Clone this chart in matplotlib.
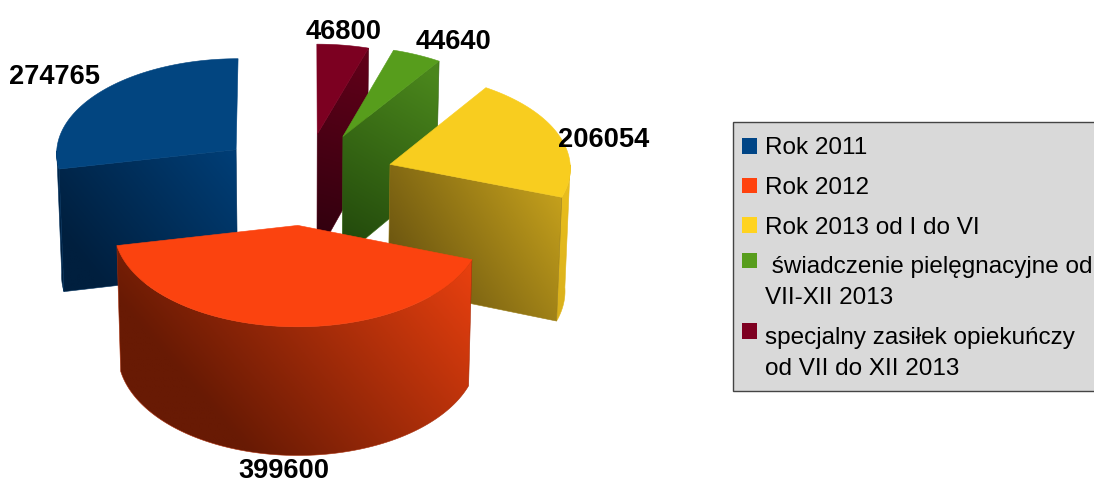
import numpy as np
import matplotlib
matplotlib.use('Agg')
import matplotlib.pyplot as plt
from matplotlib.colors import LinearSegmentedColormap
from matplotlib.patches import Patch, Polygon, Rectangle

plt.rcParams['font.family'] = ['Liberation Sans', 'DejaVu Sans']

# data
categories = ['Rok 2011', 'Rok 2012', 'Rok 2013 od I do VI',
              ' świadczenie pielęgnacyjne od\nVII-XII 2013',
              'specjalny zasiłek opiekuńczy\nod VII do XII 2013']
values = [274765, 399600, 206054, 44640, 46800]
colors = ['#004586', '#ff420e', '#ffd320', '#579d1c', '#7e0021']
top_colors = ['#024580', '#fb430f', '#f8cd1f', '#579d1c', '#7c0021']

# projection of the pie (pixels)
CX, CY = 304.3, 179.0
RX, RY = 181.0, 95.5
PERSP = 0.03
HEIGHT = 123.0
SHRINK = 0.98
explode = [0.49, 0.48, 0.5, 0.5, 0.48]

# wall shading: dark colour, light colour, gradient start and end
wall_shade = [('#001e3c', '#003f7a', (80, 280), (240, 150)),
              ('#681a04', '#e8400f', (250, 455), (470, 265)),
              ('#d9b01c', '#ecc01d', (560, 320), (570, 170)),
              ('#234a0c', '#234a0c', (0, 0), (1, 1)),
              ('#34000f', '#34000f', (0, 0), (1, 1))]
# cut face shading
cut_shade = [('#001f3e', '#003f78', (90, 270), (240, 150)),
             None,
             ('#6b5510', '#c9a41d', (400, 270), (555, 170)),
             ('#234a0c', '#4a861c', (345, 240), (440, 80)),
             ('#33000f', '#600019', (318, 230), (368, 60))]

label_pos = [(54, 77), (284, 470.5), (604, 140), (454, 42), (344, 32)]


def project(u, v):
    s = 1.0 / (1.0 + PERSP * v)
    return CX + RX * u * s, CY - RY * v * s, s


def lower(x, y, s):
    return CX + (x - CX) * SHRINK, y + HEIGHT * s


def shaded(ax, pts, shade, z):
    # gradient image clipped to the face
    c0, c1, p0, p1 = shade
    cmap = LinearSegmentedColormap.from_list('w', [c0, c1])
    pts = np.array(pts)
    x0, x1 = pts[:, 0].min() - 2, pts[:, 0].max() + 2
    y0, y1 = pts[:, 1].min() - 2, pts[:, 1].max() + 2
    xx, yy = np.meshgrid(np.linspace(x0, x1, 200), np.linspace(y0, y1, 200))
    d = np.array(p1, float) - np.array(p0, float)
    t = ((xx - p0[0]) * d[0] + (yy - p0[1]) * d[1]) / (d @ d)
    im = ax.imshow(np.clip(t, 0, 1), cmap=cmap, vmin=0, vmax=1, origin='upper',
                   extent=(x0, x1, y1, y0), aspect='auto', zorder=z,
                   interpolation='bilinear')
    clip = Polygon(pts, closed=True, transform=ax.transData)
    im.set_clip_path(clip)
    mid = cmap(0.5)
    ax.add_patch(Polygon(pts, closed=True, fc='none', ec=mid, lw=0.4, zorder=z))


fig = plt.figure(figsize=(10.94, 4.83), dpi=100)
ax = fig.add_axes([0, 0, 1, 1])
ax.axis('off')

fracs = np.array(values) / np.sum(values)
starts = 90 + 360 * np.concatenate(([0], np.cumsum(fracs)[:-1]))

# back slices first, red one last
for z, i in enumerate([4, 3, 0, 2, 1]):
    t1 = np.radians(starts[i])
    t2 = t1 + np.radians(360 * fracs[i])
    mid = (t1 + t2) / 2
    u0, v0 = explode[i] * np.cos(mid), explode[i] * np.sin(mid)
    ax0, ay0, s0 = project(u0, v0)
    th = np.linspace(t1, t2, 120)
    ax1, ay1, s1 = project(u0 + np.cos(th), v0 + np.sin(th))
    bx1, by1 = lower(ax1, ay1, s1)
    bx0, by0 = lower(ax0, ay0, s0)
    base = z * 10 + 2

    # outer wall, only the part turned to the viewer
    front = np.sin(th) <= 0.0
    if front.sum() > 1:
        wall = list(zip(ax1[front], ay1[front])) + list(zip(bx1[front][::-1], by1[front][::-1]))
        shaded(ax, wall, wall_shade[i], base)

    # cut faces
    if cut_shade[i] is not None:
        k = -1 if np.cos(t2) < -1e-6 else 0
        face = [(ax0, ay0), (ax1[k], ay1[k]), (bx1[k], by1[k]), (bx0, by0)]
        shaded(ax, face, cut_shade[i], base + 1)

    top = [(ax0, ay0)] + list(zip(ax1, ay1))
    ax.add_patch(Polygon(top, closed=True, fc=top_colors[i], ec=top_colors[i], lw=0.4, zorder=base + 2))

for v, pos in zip(values, label_pos):
    ax.text(pos[0], pos[1], str(v), fontsize=19.6, fontweight='bold', color='black',
            ha='center', va='center', zorder=100)

ax.set_xlim(0, 1094)
ax.set_ylim(483, 0)

# legend, box drawn apart so the padding can differ per side
ax.add_patch(Rectangle((733, 121.5), 380, 269.5, fc='#d9d9d9', ec='#444444', lw=1.0, zorder=150))
handles = [Patch(facecolor=c, edgecolor='none') for c in colors]
leg = ax.legend(handles, categories, loc='upper left', bbox_to_anchor=(742, 137.5),
                bbox_transform=ax.transData, fontsize=17.5, frameon=False,
                borderaxespad=0, borderpad=0, handlelength=0.62, handleheight=0.62,
                handletextpad=0.33, labelspacing=0.72)
leg.set_zorder(200)
for t, h in zip(leg.get_texts(), leg.legend_handles):
    t.set_linespacing(1.55)
    if '\n' in t.get_text():
        # marker sits beside the first line
        h.set_y(h.get_y() + 16)

plt.savefig('out.png', dpi=100)
plt.close()
